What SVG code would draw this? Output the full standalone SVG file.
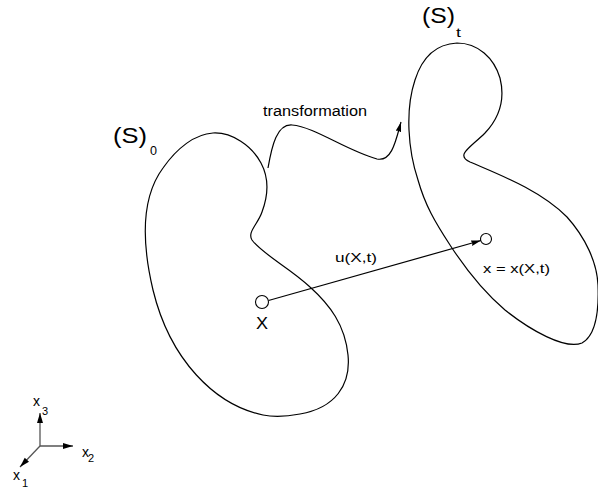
<svg xmlns="http://www.w3.org/2000/svg" width="598" height="491" viewBox="0 0 598 491">
<style>
.curve{fill:none;stroke:#000;stroke-width:1.2}
.lbl{font-family:"Liberation Sans",Arial,sans-serif;fill:#000}
.axis{stroke:#555;stroke-width:1.3;fill:none}
</style>
<defs>
<marker id="ah" viewBox="0 0 10 6" refX="10" refY="3" markerWidth="10" markerHeight="6" markerUnits="userSpaceOnUse" orient="auto">
<path d="M0,0.2 L10,3 L0,5.8 L1,3 Z" fill="#000"/>
</marker>
<marker id="axh" viewBox="0 0 10 6" refX="10" refY="3" markerWidth="10" markerHeight="7" markerUnits="userSpaceOnUse" orient="auto">
<path d="M0,0 L10,3 L0,6 Z" fill="#000"/>
</marker>
</defs>
<rect width="598" height="491" fill="#fff"/>
<g id="S0">
<path class="curve" d="M213,133 C232,132 252,146 261,163 C269,178 268,196 262,212 C258,224 247,232 252,240 C262,254 290,268 310,287 C330,305 345,325 348,355 C351,385 335,408 300,414 C285,417 272,417 263,415 C215,405 170,360 153,290 C140,235 143,195 163,168 C177,148 195,134 213,133 Z"/>
<text class="lbl" x="113" y="143" font-size="22" textLength="34" lengthAdjust="spacingAndGlyphs">(S)</text>
<text class="lbl" x="150" y="155" font-size="12" textLength="7" lengthAdjust="spacingAndGlyphs">0</text>
</g>
<g id="St">
<path class="curve" d="M457,43 C478,43 494,58 500,78 C505,98 500,117 485,133 C470,148 455,155 470,162 C500,175 540,190 567,217 C585,237 597,262 598,285 C599,310 596,335 582,343 C565,350 530,330 505,310 C485,293 465,268 450,245 C435,222 425,205 418,180 C408,150 405,110 415,80 C422,58 436,44 457,43 Z"/>
<text class="lbl" x="422" y="23" font-size="22" textLength="33" lengthAdjust="spacingAndGlyphs">(S)</text>
<text class="lbl" x="456" y="37" font-size="12" textLength="5" lengthAdjust="spacingAndGlyphs">t</text>
</g>
<g id="pX">
<circle cx="262" cy="302" r="6.5" fill="none" stroke="#000" stroke-width="1.1"/>
<text class="lbl" x="256" y="329" font-size="16" textLength="12" lengthAdjust="spacingAndGlyphs">X</text>
</g>
<g id="px">
<circle cx="486" cy="239" r="5.5" fill="none" stroke="#000" stroke-width="1.1"/>
<text class="lbl" x="483" y="273" font-size="13" textLength="67" lengthAdjust="spacingAndGlyphs">x = x(X,t)</text>
</g>
<g id="connectors">
<path class="curve" d="M268,168 C272,145 277,124 292,125 C315,127 345,150 377,159 C392,162 396,140 401,122" marker-end="url(#ah)"/>
<line x1="268.5" y1="300.5" x2="481" y2="240.5" stroke="#000" stroke-width="1.2" marker-end="url(#ah)"/>
<text class="lbl" x="263" y="116" font-size="14" textLength="104" lengthAdjust="spacingAndGlyphs">transformation</text>
<text class="lbl" x="335" y="262" font-size="13" textLength="42" lengthAdjust="spacingAndGlyphs">u(X,t)</text>
</g>
<g id="axes">
<line class="axis" x1="40" y1="446" x2="40" y2="413" marker-end="url(#axh)"/>
<line class="axis" x1="40" y1="446" x2="73" y2="446" marker-end="url(#axh)"/>
<line class="axis" x1="40" y1="446" x2="20" y2="467" marker-end="url(#axh)"/>
<text class="lbl" x="33" y="406" font-size="14">x</text>
<text class="lbl" x="42" y="415" font-size="11">3</text>
<text class="lbl" x="82" y="457" font-size="14">x</text>
<text class="lbl" x="88" y="462" font-size="11">2</text>
<text class="lbl" x="13" y="480" font-size="14">x</text>
<text class="lbl" x="22" y="487" font-size="11">1</text>
</g>
</svg>
